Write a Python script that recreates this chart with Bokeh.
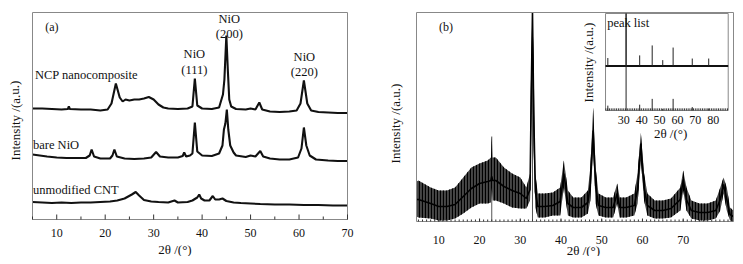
import math
from bokeh.plotting import figure
from bokeh.layouts import row
from bokeh.models import Range1d
from bokeh.core.properties import value
from bokeh.embed import file_html
from bokeh.resources import INLINE

FONT = "Liberation Serif"
FRAME = "#888888"
INK = "#111111"
TICK = "#333333"

# ---------------- Panel (a) data ----------------
ncp_x = [5, 7, 9, 11, 12.3, 12.5, 12.7, 15, 17, 19, 20.5, 21.3, 22.2, 23, 23.6, 24.2, 25, 26, 27, 28, 29, 30, 31, 32, 33, 35, 37, 38, 38.5, 39, 40, 42, 43.5, 44.3, 44.6, 45, 45.3, 45.6, 46, 47, 49, 50, 51, 51.8, 52.4, 54, 56, 58, 59.5, 60.3, 61, 61.7, 62.5, 64, 66, 68, 70]
ncp_y = [111, 111, 110.5, 110, 110.5, 113, 110.5, 110, 110, 109, 110, 116, 136, 122, 118, 120, 119, 120, 120, 121, 122.5, 120, 115, 112, 111, 110.5, 111, 113, 141, 114, 111, 110.5, 112, 125, 140, 184, 150, 120, 113, 110.5, 110, 111, 110, 117, 110, 108, 107.5, 108, 109, 116, 139, 116, 109, 107.5, 107, 106.5, 106.5]

nio_x = [5, 6.5, 8, 10, 12, 14, 16, 16.8, 17.2, 17.7, 19, 21, 21.5, 21.9, 22.4, 24, 26, 28, 29.5, 30.5, 31.3, 33, 35, 36, 36.3, 36.7, 37.5, 38, 38.5, 39, 40, 42, 43.5, 44.2, 44.5, 44.8, 45.1, 45.4, 45.8, 46.5, 47, 49, 50, 51, 52, 52.6, 54, 56, 58, 59.8, 60.5, 61, 61.5, 62.2, 63.5, 66, 68, 70]
nio_y = [65, 64, 63, 62, 61.5, 61.5, 61.5, 64, 70, 63, 61, 61, 64, 70, 63, 61, 60.5, 61, 62, 67.5, 63, 62, 62, 63.5, 67, 63, 64, 66, 97, 68, 64, 63.5, 66, 74, 90, 96, 110, 90, 74, 67, 64, 62.5, 64, 63, 68.5, 63, 61, 60, 60, 62, 71, 92, 74, 64, 60, 59, 58.5, 58.5]

cnt_x = [5, 7, 9, 11, 13, 15, 17, 19, 21, 22.5, 24, 25.5, 26.3, 27, 28, 29.5, 31, 33, 34.3, 35, 37, 38, 39, 39.4, 39.8, 40.5, 41.5, 42.2, 42.7, 43.5, 44.2, 45, 46.5, 48, 50, 52, 55, 58, 61, 64, 67, 70]
cnt_y = [17.5, 17, 16.5, 17, 16.5, 17, 17, 17.5, 18, 19, 21, 25, 27.5, 24, 19.5, 18, 17.5, 17, 19, 17, 17.5, 19, 22, 25, 21, 19, 19, 23.5, 20, 20, 21, 18.5, 17, 16.5, 16, 15.5, 15, 15, 14.5, 14.5, 14, 14]

a_xticks = [10, 20, 30, 40, 50, 60, 70]
a_xminor = [5, 15, 25, 35, 45, 55, 65]

# ---------------- Panel (b) data ----------------
b_x = [4.5, 5, 8, 10, 12, 14, 16, 18, 20, 22, 22.8, 23, 23.2, 24, 26, 28, 30, 31.5, 32.4, 32.7, 33.0, 33.3, 33.7, 34.3, 36, 38, 39.8, 40.7, 41.7, 43, 45, 46.6, 47.2, 47.9, 48.5, 49.2, 51, 52.8, 53.8, 54.4, 56, 58.0, 58.8, 59.6, 60.4, 61.2, 63, 65, 67, 69.3, 70.0, 70.8, 72, 74, 76, 78, 79.1, 79.9, 80.7, 81.5, 82.3]
b_upper = [40, 41, 34, 31, 31, 34, 44, 54, 58, 61, 64, 85, 64, 64, 54, 48, 44, 34, 48, 171, 209, 154, 48, 28, 28, 29, 34, 61, 31, 24, 24, 31, 54, 114, 54, 28, 24, 24, 38, 24, 24, 28, 48, 89, 48, 28, 21, 21, 23, 34, 51, 34, 21, 18, 18, 21, 34, 44, 34, 14, 11]
b_lower = [5, 4, 3, 1, 1, 3, 8, 14, 18, 18, 19, 34, 21, 21, 18, 14, 13, 13, 21, 88, 138, 71, 14, 4, 4, 6, 6, 34, 6, 4, 4, 8, 21, 71, 18, 6, 4, 4, 18, 4, 4, 6, 18, 61, 21, 6, 3, 3, 4, 11, 31, 11, 3, 1, 1, 3, 11, 28, 11, 1, 0]
b_center = [22, 22, 18, 15, 15, 17, 25, 33, 38, 40, 41, 45, 41, 41, 35, 31, 28, 23, 32, 130, 209, 110, 30, 15, 15, 16, 20, 48, 18, 14, 14, 19, 38, 91, 36, 16, 14, 14, 28, 14, 14, 16, 32, 78, 34, 16, 11, 11, 13, 22, 42, 22, 11, 9, 9, 11, 22, 37, 22, 7, 5]

marker_x = [23, 33.0]
marker_top = [85, 209]

b_xticks = [10, 20, 30, 40, 50, 60, 70]
b_xminor = list(range(5, 83))

# inset (peak list)
inset_pos = [21.1, 31.3, 38.9, 45.9, 51.8, 57.6, 68.3, 77.5]
peaklist_int = [15, 100, 20, 39, 11, 35, 14, 14]
sample_int = [5, 100, 6, 12, 1.5, 12, 3.5, 2]
inset_ticks = [30, 40, 50, 60, 70, 80]
inset_minor = list(range(20, 89))

XTITLE = "2θ /(°)"
YTITLE = "Intensity /(a.u.)"

H = 256


def panel_fig(width, xlim, ylim, left, right, top, bottom):
    """Figure whose frame is the whole canvas; the plotting box (xlim, ylim)
    sits `left/right/top/bottom` pixels inside it, so outer texts are not clipped."""
    box_w = width - left - right
    box_h = H - top - bottom
    sx = box_w / (xlim[1] - xlim[0])
    sy = box_h / (ylim[1] - ylim[0])
    xr = Range1d(xlim[0] - left / sx, xlim[1] + right / sx)
    yr = Range1d(ylim[0] - bottom / sy, ylim[1] + top / sy)
    p = figure(width=width, height=H, x_range=xr, y_range=yr,
               output_backend="svg", toolbar_location=None,
               x_axis_location=None, y_axis_location=None,
               min_border_left=0, min_border_right=0,
               min_border_top=0, min_border_bottom=0)
    p.xgrid.visible = False
    p.ygrid.visible = False
    p.outline_line_color = None
    p.background_fill_color = "white"
    p.border_fill_color = "white"
    return p, sx, sy


def txt(g, xs, ys, texts, align="left", size="12.5px", angle=0.0):
    g.text(x=xs, y=ys, text=texts, angle=[angle] * len(texts),
           text_font=value(FONT), text_font_size=size, text_align=align,
           text_baseline="middle", text_color=INK)


def draw_axes(p, xlim, ylim, sx, sy, ticks, minor, tin, min_in, tick_px, title_px, ylab_px):
    # plotting box
    p.quad(left=[xlim[0]], right=[xlim[1]], bottom=[ylim[0]], top=[ylim[1]],
           fill_color=None, line_color=FRAME, line_width=1)
    # inward ticks on the bottom axis
    p.segment(x0=minor, y0=[ylim[0]] * len(minor), x1=minor,
              y1=[ylim[0] + min_in / sy] * len(minor), line_color=TICK, line_width=1)
    p.segment(x0=ticks, y0=[ylim[0]] * len(ticks), x1=ticks,
              y1=[ylim[0] + tin / sy] * len(ticks), line_color=TICK, line_width=1)
    # tick labels and axis titles
    txt(p, ticks, [ylim[0] - tick_px / sy] * len(ticks), [str(t) for t in ticks], "center", "12px")
    txt(p, [title_px[0]], [ylim[0] - title_px[1] / sy], [XTITLE], "center", "13px")
    txt(p, [xlim[0] - ylab_px[0] / sx], [ylab_px[1]], [YTITLE], "center", "13px", math.pi / 2)


# ---------------- figure (a) ----------------
A_X, A_Y = (5, 70), (0, 207)
pa, asx, asy = panel_fig(378, A_X, A_Y, 32, 31, 12, 37)

for xs, ys in ((ncp_x, ncp_y), (nio_x, nio_y), (cnt_x, cnt_y)):
    pa.line(xs, ys, line_color=INK, line_width=2.1)

draw_axes(pa, A_X, A_Y, asx, asy, a_xticks, a_xminor, 5, 3, 13, (34.4, 30), (17.5, 99))

txt(pa, [5.5], [145], ["NCP nanocomposite"])
txt(pa, [5.1], [75], ["bare NiO"])
txt(pa, [5.1], [29.7], ["unmodified CNT"])
txt(pa, [9.0], [192.3], ["(a)"], "center", "12px")
txt(pa, [38.4, 45.6, 61.1], [165.5, 200.7, 162.3], ["NiO", "NiO", "NiO"], "center")
txt(pa, [38.4, 45.6, 61.1], [149.5, 185.7, 147.3], ["(111)", "(200)", "(220)"], "center")

# ---------------- figure (b) ----------------
B_X, B_Y = (4.525, 82.35), (0, 209)
pb, bsx, bsy = panel_fig(357, B_X, B_Y, 38, 2, 12, 35)

pb.segment(x0=marker_x, y0=[0] * len(marker_x), x1=marker_x, y1=marker_top,
           line_color="#555555", line_width=1)
pb.varea(x=b_x, y1=b_lower, y2=b_upper, fill_color="#474747", fill_alpha=1.0,
         hatch_pattern="vertical_line", hatch_color="#000000", hatch_scale=3,
         hatch_weight=1.2)
pb.line(b_x, b_center, line_color="#000000", line_width=1.6)

draw_axes(pb, B_X, B_Y, bsx, bsy, b_xticks, b_xminor, 3, 2, 18, (45.5, 28.5), (21, 98))
txt(pb, [11.77], [194.3], ["(b)"], "center", "12px")

# inset drawn in its own sub-coordinate system
inset_xr = Range1d(19.8, 88.4)
inset_yr = Range1d(0, 100)
sub = pb.subplot(x_source=inset_xr, y_source=inset_yr,
                 x_target=Range1d(50.93, 81.05), y_target=Range1d(111, 208))

sub.quad(left=[inset_xr.start], right=[inset_xr.end], bottom=[inset_yr.start], top=[inset_yr.end],
         fill_color="white", line_color=FRAME, line_width=1)
mid = 46
sub.segment(x0=[inset_xr.start], y0=[mid], x1=[inset_xr.end], y1=[mid],
            line_color=INK, line_width=2)
sub.segment(x0=inset_pos, y0=[mid] * len(inset_pos), x1=inset_pos,
            y1=[mid + v * 0.54 for v in peaklist_int], line_color="#222222", line_width=1)
sub.segment(x0=inset_pos, y0=[0] * len(inset_pos), x1=inset_pos,
            y1=sample_int, line_color="#222222", line_width=1)
sub.segment(x0=inset_minor, y0=[0] * len(inset_minor), x1=inset_minor,
            y1=[2.2] * len(inset_minor), line_color=TICK, line_width=1)
txt(sub, inset_ticks, [-10.3] * len(inset_ticks), [str(t) for t in inset_ticks], "center", "12px")
txt(sub, [56.2], [-23.7], [XTITLE], "center", "13px")
txt(sub, [10.5], [49.5], [YTITLE], "center", "13px", math.pi / 2)
txt(sub, [20.7], [90], ["peak list"], "left", "12.5px")

layout = row(pa, pb)
open("out.html", "w").write(file_html(layout, INLINE))
